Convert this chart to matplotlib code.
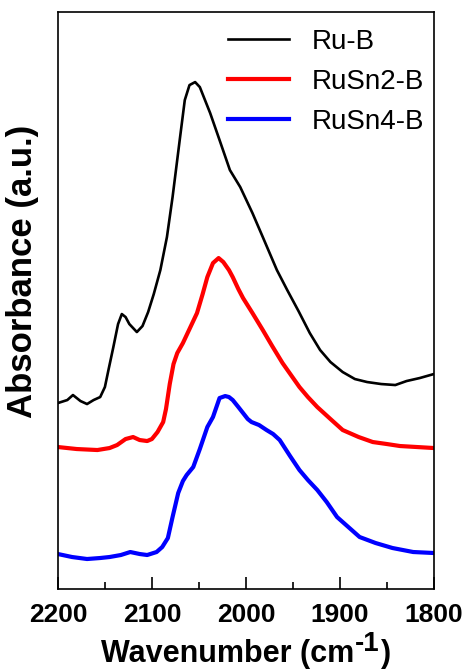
import matplotlib
matplotlib.use("Agg")
import matplotlib.pyplot as plt
from matplotlib.ticker import MultipleLocator
from matplotlib.transforms import IdentityTransform

plt.rcParams['font.family'] = ['Liberation Sans', 'DejaVu Sans']

# spectra (wavenumber in cm-1, absorbance in a.u.)
wn_rub = [2200, 2190, 2184, 2176, 2169, 2162, 2155, 2150, 2146, 2141, 2136, 2132,
          2128, 2124, 2116, 2110, 2104, 2098, 2091, 2084, 2078, 2070, 2065, 2060,
          2054, 2049, 2038, 2028, 2017, 2006, 1993, 1982, 1967, 1956, 1944, 1932,
          1921, 1910, 1897, 1884, 1871, 1856, 1841, 1829, 1815, 1800]
abs_rub = [1.86, 1.89, 1.94, 1.88, 1.85, 1.89, 1.92, 2.02, 2.20, 2.42, 2.65, 2.75,
           2.72, 2.65, 2.57, 2.63, 2.77, 2.95, 3.19, 3.52, 3.92, 4.52, 4.89, 5.04,
           5.07, 5.02, 4.76, 4.49, 4.19, 4.02, 3.76, 3.52, 3.19, 2.99, 2.78, 2.56,
           2.39, 2.27, 2.17, 2.10, 2.07, 2.05, 2.04, 2.08, 2.11, 2.15]

wn_rusn2 = [2200, 2180, 2158, 2145, 2137, 2128, 2120, 2113, 2105, 2100, 2094, 2088,
            2085, 2081, 2077, 2073, 2067, 2060, 2052, 2046, 2041, 2035, 2029, 2024,
            2018, 2014, 2008, 2003, 1993, 1982, 1972, 1961, 1952, 1943, 1934, 1924,
            1910, 1897, 1880, 1865, 1850, 1836, 1818, 1800]
abs_rusn2 = [1.42, 1.40, 1.39, 1.41, 1.44, 1.50, 1.52, 1.49, 1.48, 1.50, 1.57, 1.67,
             1.80, 2.05, 2.25, 2.36, 2.46, 2.60, 2.76, 2.95, 3.12, 3.26, 3.31, 3.27,
             3.19, 3.12, 3.00, 2.91, 2.76, 2.59, 2.43, 2.26, 2.14, 2.02, 1.92, 1.82,
             1.70, 1.59, 1.52, 1.47, 1.45, 1.43, 1.42, 1.41]

wn_rusn4 = [2200, 2185, 2169, 2155, 2145, 2133, 2123, 2113, 2105, 2095, 2089, 2083,
            2078, 2072, 2067, 2063, 2056, 2049, 2041, 2035, 2028, 2022, 2018, 2014,
            2008, 2003, 1998, 1994, 1986, 1978, 1971, 1964, 1953, 1943, 1934, 1924,
            1914, 1903, 1891, 1879, 1862, 1844, 1822, 1800]
abs_rusn4 = [0.35, 0.32, 0.30, 0.31, 0.32, 0.34, 0.37, 0.35, 0.34, 0.37, 0.42, 0.51,
             0.72, 0.96, 1.08, 1.14, 1.22, 1.40, 1.62, 1.72, 1.91, 1.93, 1.92, 1.89,
             1.82, 1.76, 1.70, 1.67, 1.64, 1.59, 1.55, 1.49, 1.33, 1.19, 1.09, 0.99,
             0.87, 0.72, 0.62, 0.52, 0.46, 0.41, 0.37, 0.36]

xticks = [2200, 2100, 2000, 1900, 1800]

fig = plt.figure(figsize=(4.67, 6.72), dpi=100)
ax = fig.add_axes([0.124, 0.1235, 0.805, 0.8585])

ax.plot(wn_rub, abs_rub, color='black', lw=1.9, label='Ru-B')
ax.plot(wn_rusn2, abs_rusn2, color='#ff0000', lw=3.0, label='RuSn2-B')
ax.plot(wn_rusn4, abs_rusn4, color='#0000ff', lw=3.0, label='RuSn4-B')

ax.set_xlim(2200, 1800)
ax.set_ylim(0, 5.77)
ax.set_xticks(xticks)
ax.xaxis.set_minor_locator(MultipleLocator(50))
ax.set_yticks([])
ax.tick_params(axis='x', which='major', direction='in', length=9, width=1.2,
               labelsize=19, pad=10)
ax.tick_params(axis='x', which='minor', direction='in', length=5, width=1.2)
for lbl in ax.get_xticklabels():
    lbl.set_fontweight('bold')
for sp in ax.spines.values():
    sp.set_linewidth(1.2)

ax.set_ylabel('Absorbance (a.u.)', fontsize=25, fontweight='bold')
ax.yaxis.set_label_coords(-0.05, 0.55)

ax.legend(loc='upper right', bbox_to_anchor=(1.018, 1.0), frameon=False, fontsize=20,
          handlelength=2.2, handletextpad=0.8, labelspacing=0.5, borderaxespad=0.2)

# x label in pieces so the superscript can be full size, as in the reference
pix = IdentityTransform()
t1 = fig.text(0, 10, 'Wavenumber (cm', fontsize=22, fontweight='bold',
              va='baseline', transform=pix)
t2 = fig.text(0, 21, '-1', fontsize=20, fontweight='bold', va='baseline', transform=pix)
t3 = fig.text(0, 10, ')', fontsize=22, fontweight='bold', va='baseline', transform=pix)
fig.canvas.draw()
r = fig.canvas.get_renderer()
w1 = t1.get_window_extent(r).width
w2 = t2.get_window_extent(r).width
w3 = t3.get_window_extent(r).width
x0 = 246 - (w1 + w2 + w3 + 2) / 2
t1.set_x(x0)
t2.set_x(x0 + w1 + 1)
t3.set_x(x0 + w1 + w2 + 2)

fig.savefig('out.png', dpi=100, facecolor='white')
